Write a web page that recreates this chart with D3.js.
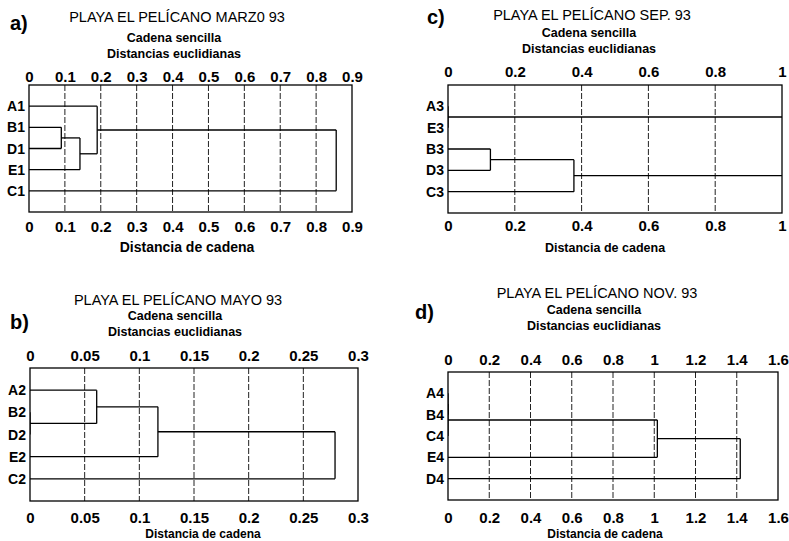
<!DOCTYPE html>
<html>
<head>
<meta charset="utf-8">
<script src="https://cdn.jsdelivr.net/npm/d3@7"></script>
<style>
  body { margin: 0; background: #fff; }
  text { font-family: "Liberation Sans", Arial, sans-serif; fill: #000; }
</style>
</head>
<body>
<script>
// panel texts
const letters = ["a)", "b)", "c)", "d)"];
const titles = [
  "PLAYA EL PELÍCANO MARZ0 93",
  "PLAYA EL PELÍCANO MAYO 93",
  "PLAYA EL PELÍCANO SEP. 93",
  "PLAYA EL PELÍCANO NOV. 93"
];
const subtitle1 = "Cadena sencilla";
const subtitle2 = "Distancias euclidianas";
const xLabel = "Distancia de cadena";

// leaf order, top to bottom
const leavesA = ["A1", "B1", "D1", "E1", "C1"];
const leavesB = ["A2", "B2", "D2", "E2", "C2"];
const leavesC = ["A3", "E3", "B3", "D3", "C3"];
const leavesD = ["A4", "B4", "C4", "E4", "D4"];

// joins: [cluster, cluster, linkage distance]  (a joined cluster is named "x+y")
const mergesA = [["B1", "D1", 0.09], ["B1+D1", "E1", 0.142], ["A1", "B1+D1+E1", 0.19], ["A1+B1+D1+E1", "C1", 0.856]];
const mergesB = [["B2", "D2", 0], ["A2", "B2+D2", 0.061], ["A2+B2+D2", "E2", 0.117], ["A2+B2+D2+E2", "C2", 0.279]];
const mergesC = [["A3", "E3", 0], ["B3", "D3", 0.127], ["B3+D3", "C3", 0.377], ["A3+E3", "B3+D3+C3", 1.05]];
const mergesD = [["A4", "B4", 0], ["A4+B4", "C4", 0], ["A4+B4+C4", "E4", 1.015], ["A4+B4+C4+E4", "D4", 1.417]];

// axis ticks
const ticksA = [0, 0.1, 0.2, 0.3, 0.4, 0.5, 0.6, 0.7, 0.8, 0.9];
const ticksB = [0, 0.05, 0.1, 0.15, 0.2, 0.25, 0.3];
const ticksC = [0, 0.2, 0.4, 0.6, 0.8, 1];
const ticksD = [0, 0.2, 0.4, 0.6, 0.8, 1, 1.2, 1.4, 1.6];

const panels = [
  {letter: letters[0], title: titles[0], leaves: leavesA, merges: mergesA, ticks: ticksA},
  {letter: letters[1], title: titles[1], leaves: leavesB, merges: mergesB, ticks: ticksB},
  {letter: letters[2], title: titles[2], leaves: leavesC, merges: mergesC, ticks: ticksC},
  {letter: letters[3], title: titles[3], leaves: leavesD, merges: mergesD, ticks: ticksD}
];

// page layout (px): frame = [left, top, right, bottom]
const layouts = [
  {frame: [29, 85, 352, 212], letter: [10, 30], titleX: 177, titleY: 22, sub1Y: 42, sub2Y: 58, topGap: 3, botGap: 9, xLabX: 187, xLabY: 252, xLabSize: 14},
  {frame: [30, 368, 358, 501], letter: [10, 329], titleX: 178, titleY: 305, sub1Y: 320, sub2Y: 336, topGap: 7, botGap: 11, xLabX: 203, xLabY: 538, xLabSize: 12},
  {frame: [448, 85, 782, 213], letter: [427, 24], titleX: 592, titleY: 20, sub1Y: 37, sub2Y: 53, topGap: 8, botGap: 7, xLabX: 605, xLabY: 252, xLabSize: 12.5},
  {frame: [448, 372, 778, 500], letter: [415, 319], titleX: 597, titleY: 298, sub1Y: 314, sub2Y: 330, topGap: 7, botGap: 12, xLabX: 605, xLabY: 538, xLabSize: 12}
];

const svg = d3.select("body").append("svg")
  .attr("width", 789)
  .attr("height", 541);

panels.forEach((p, i) => {
  const L = layouts[i];
  const [x0, y0, x1, y1] = L.frame;
  const g = svg.append("g");

  const x = d3.scaleLinear()
    .domain([0, p.ticks[p.ticks.length - 1]])
    .range([x0, x1]);

  const y = d3.scaleLinear()
    .domain([0, p.leaves.length + 1])
    .range([y0, y1]);

  // headings
  g.append("text")
    .attr("x", L.letter[0]).attr("y", L.letter[1])
    .attr("font-size", 20).attr("font-weight", "bold")
    .text(p.letter);

  g.append("text")
    .attr("x", L.titleX).attr("y", L.titleY)
    .attr("text-anchor", "middle")
    .attr("font-size", 14.5)
    .text(p.title);

  g.append("text")
    .attr("x", L.titleX - 3).attr("y", L.sub1Y)
    .attr("text-anchor", "middle")
    .attr("font-size", 12.5).attr("font-weight", "bold")
    .text(subtitle1);

  g.append("text")
    .attr("x", L.titleX - 3).attr("y", L.sub2Y)
    .attr("text-anchor", "middle")
    .attr("font-size", 12.5).attr("font-weight", "bold")
    .text(subtitle2);

  // grid
  g.append("g")
    .selectAll("line")
    .data(p.ticks.slice(1, -1))
    .join("line")
      .attr("x1", d => x(d)).attr("x2", d => x(d))
      .attr("y1", y0).attr("y2", y1)
      .attr("stroke", "#222")
      .attr("stroke-width", 1)
      .attr("stroke-dasharray", "6,2");

  // axes
  function styleAxis(ax) {
    ax.select(".domain").remove();
    ax.selectAll("text")
      .attr("font-size", 15)
      .attr("font-weight", "bold")
      .attr("fill", "#000")
      .style("font-family", '"Liberation Sans", Arial, sans-serif');
  }

  g.append("g")
    .attr("transform", `translate(0,${y0})`)
    .call(d3.axisTop(x).tickValues(p.ticks).tickSize(0).tickPadding(L.topGap).tickFormat(d => String(d)))
    .call(styleAxis);

  g.append("g")
    .attr("transform", `translate(0,${y1})`)
    .call(d3.axisBottom(x).tickValues(p.ticks).tickSize(0).tickPadding(L.botGap).tickFormat(d => String(d)))
    .call(styleAxis);

  g.append("text")
    .attr("x", L.xLabX).attr("y", L.xLabY)
    .attr("text-anchor", "middle")
    .attr("font-size", L.xLabSize).attr("font-weight", "bold")
    .text(xLabel);

  // leaf labels
  g.append("g")
    .selectAll("text")
    .data(p.leaves)
    .join("text")
      .attr("x", x0 - 4)
      .attr("y", (d, k) => y(k + 1))
      .attr("dy", "0.36em")
      .attr("text-anchor", "end")
      .attr("font-size", 14)
      .attr("font-weight", "bold")
      .text(d => d);

  // tree segments
  const pos = new Map();
  p.leaves.forEach((n, k) => pos.set(n, {y: k + 1, h: 0}));
  const segs = [];
  p.merges.forEach(([a, b, h]) => {
    const A = pos.get(a), B = pos.get(b);
    segs.push([A.h, A.y, h, A.y]);
    segs.push([B.h, B.y, h, B.y]);
    segs.push([h, A.y, h, B.y]);
    pos.set(a + "+" + b, {y: (A.y + B.y) / 2, h: h});
  });

  const clipId = "clip" + i;
  svg.append("clipPath").attr("id", clipId)
    .append("rect")
      .attr("x", x0).attr("y", y0)
      .attr("width", x1 - x0).attr("height", y1 - y0);

  g.append("g")
    .attr("clip-path", `url(#${clipId})`)
    .selectAll("line")
    .data(segs)
    .join("line")
      .attr("x1", d => x(d[0])).attr("y1", d => y(d[1]))
      .attr("x2", d => x(d[2])).attr("y2", d => y(d[3]))
      .attr("stroke", "#000")
      .attr("stroke-width", 1.3);

  // frame
  g.append("rect")
    .attr("x", x0).attr("y", y0)
    .attr("width", x1 - x0).attr("height", y1 - y0)
    .attr("fill", "none")
    .attr("stroke", "#000")
    .attr("stroke-width", 1.3);
});
</script>
</body>
</html>
